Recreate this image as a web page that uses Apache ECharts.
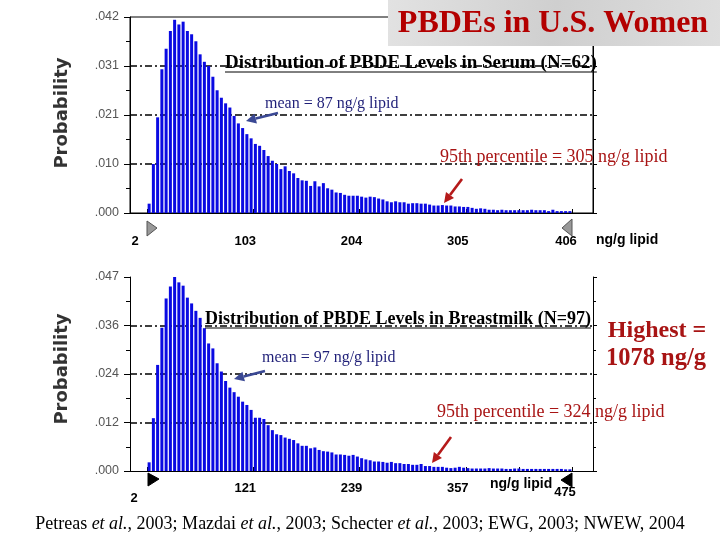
<!DOCTYPE html>
<html>
<head>
<meta charset="utf-8">
<script src="https://cdn.jsdelivr.net/npm/echarts@6/dist/echarts.min.js"></script>
<style>
  html, body { margin: 0; padding: 0; background: #fff; }
  #main { width: 720px; height: 540px; }
</style>
</head>
<body>
<div id="main"></div>
<script>
// values
var serumRange = [2, 406];
var serumTickLabels = ['2', '103', '204', '305', '406'];
var serumYLabels = ['.000', '.010', '.021', '.031', '.042'];
var serumYMax = 0.042;
var serumValues = [
  0.0020, 0.0105, 0.0205, 0.0308, 0.0352, 0.0390, 0.0414, 0.0404, 0.0410, 0.0390,
  0.0383, 0.0368, 0.0340, 0.0324, 0.0315, 0.0292, 0.0263, 0.0247, 0.0235, 0.0226,
  0.0208, 0.0192, 0.0182, 0.0169, 0.0160, 0.0148, 0.0144, 0.0135, 0.0122, 0.0112,
  0.0105, 0.0094, 0.0100, 0.0090, 0.0085, 0.0075, 0.0070, 0.0069, 0.0058, 0.0068,
  0.0057, 0.0064, 0.0053, 0.0050, 0.0044, 0.0043, 0.0039, 0.0037, 0.0037, 0.0037,
  0.0035, 0.0033, 0.0035, 0.0034, 0.0031, 0.0029, 0.0025, 0.0023, 0.0025, 0.0023,
  0.0023, 0.0020, 0.0021, 0.0021, 0.0020, 0.0020, 0.0018, 0.0016, 0.0016, 0.0017,
  0.0016, 0.0016, 0.0014, 0.0014, 0.0013, 0.0013, 0.0011, 0.0009, 0.0010, 0.0009,
  0.0007, 0.0007, 0.0006, 0.0007, 0.0006, 0.0006, 0.0006, 0.0006, 0.0006, 0.0006,
  0.0007, 0.0006, 0.0006, 0.0006, 0.0004, 0.0007, 0.0004, 0.0004, 0.0004, 0.0004
];

var milkRange = [2, 475];
var milkTickLabels = ['2', '121', '239', '357', '475'];
var milkYLabels = ['.000', '.012', '.024', '.036', '.047'];
var milkYMax = 0.047;
var milkValues = [
  0.0021, 0.0128, 0.0257, 0.0347, 0.0418, 0.0447, 0.0471, 0.0457, 0.0449, 0.0420,
  0.0406, 0.0388, 0.0371, 0.0346, 0.0309, 0.0297, 0.0261, 0.0241, 0.0218, 0.0202,
  0.0191, 0.0180, 0.0168, 0.0160, 0.0148, 0.0129, 0.0129, 0.0126, 0.0111, 0.0099,
  0.0089, 0.0087, 0.0081, 0.0078, 0.0075, 0.0067, 0.0061, 0.0061, 0.0055, 0.0057,
  0.0051, 0.0048, 0.0047, 0.0045, 0.0040, 0.0040, 0.0039, 0.0037, 0.0039, 0.0035,
  0.0031, 0.0028, 0.0026, 0.0023, 0.0023, 0.0022, 0.0020, 0.0022, 0.0019, 0.0019,
  0.0017, 0.0017, 0.0015, 0.0015, 0.0017, 0.0012, 0.0012, 0.0010, 0.0010, 0.0010,
  0.0008, 0.0007, 0.0008, 0.0010, 0.0008, 0.0007, 0.0006, 0.0006, 0.0006, 0.0006,
  0.0007, 0.0006, 0.0006, 0.0006, 0.0005, 0.0005, 0.0006, 0.0006, 0.0005, 0.0005,
  0.0005, 0.0005, 0.0005, 0.0005, 0.0005, 0.0005, 0.0005, 0.0005, 0.0004, 0.0004
];

var SERIF = '"Liberation Serif", "Times New Roman", serif';
var SANS = '"Liberation Sans", Arial, sans-serif';
var BAR_BLUE = '#0a0ae2';
var DARK_RED = '#a81414';

// bins are equal width across the range
function toBins(range, values) {
  var w = (range[1] - range[0]) / values.length;
  return values.map(function (v, i) { return [range[0] + (i + 0.5) * w, v]; });
}
function splitRange(range, n) {
  var out = [];
  for (var i = 0; i <= n; i++) out.push(range[0] + (range[1] - range[0]) * i / n);
  return out;
}

var ctx = document.createElement('canvas').getContext('2d');
function textW(txt, font) {
  ctx.font = font;
  return ctx.measureText(txt).width;
}
// font string whose text is about `width` px wide
function fitFont(txt, style, family, width) {
  var w = textW(txt, style + ' 20px ' + family);
  var size = Math.round(20 * width / w * 2) / 2;
  return style + ' ' + size + 'px ' + family;
}

var chart = echarts.init(document.getElementById('main'));

function outerX(grid) {
  return { gridIndex: grid, type: 'value', min: 0, max: 1,
    axisLine: { show: true, lineStyle: { color: '#000', width: 1 } },
    axisTick: { show: false }, axisLabel: { show: false }, splitLine: { show: false } };
}
function innerX(grid, range, labels, margin, firstPad, lastPad) {
  var labelVals = splitRange(range, 4);
  var base = { fontFamily: SANS, fontWeight: 'bold', fontSize: 13, color: '#000' };
  return { gridIndex: grid, type: 'value', min: range[0], max: range[1],
    axisLine: { show: false },
    axisTick: { show: true, inside: true, length: 4, customValues: splitRange(range, 8),
      lineStyle: { color: '#000' } },
    axisLabel: { show: true, customValues: labelVals, margin: margin,
      formatter: function (v) {
        var idx = 0;
        labelVals.forEach(function (lv, i) { if (Math.abs(lv - v) < 1e-6) idx = i; });
        if (idx === 0) return '{f|' + labels[0] + '}';
        if (idx === 4) return '{l|' + labels[4] + '}';
        return '{n|' + labels[idx] + '}';
      },
      rich: {
        n: Object.assign({ padding: [0, 16, 0, 0] }, base),
        f: Object.assign({ padding: firstPad }, base),
        l: Object.assign({ padding: lastPad }, base)
      } },
    splitLine: { show: false } };
}
function leftY(grid, max, labels) {
  var step = max / 4;
  return { gridIndex: grid, type: 'value', min: 0, max: max, interval: step, position: 'left',
    axisLine: { show: true, lineStyle: { color: '#000', width: 1 } },
    axisTick: { show: true, length: 6, lineStyle: { color: '#000' } },
    minorTick: { show: true, splitNumber: 2, length: 4, lineStyle: { color: '#000' } },
    axisLabel: { margin: 11, color: '#555', fontFamily: SANS, fontSize: 12.5,
      formatter: function (v) { return labels[Math.round(v / step)]; } },
    splitLine: { show: true, showMinLine: false, showMaxLine: false,
      lineStyle: { color: '#000', width: 1.6, type: [7, 3, 2, 3] } } };
}
function rightY(grid, max) {
  var step = max / 4;
  return { gridIndex: grid, type: 'value', min: 0, max: max, interval: step, position: 'right',
    axisLine: { show: true, lineStyle: { color: '#000', width: 1 } },
    axisTick: { show: true, length: 4, lineStyle: { color: '#000' } },
    minorTick: { show: true, splitNumber: 2, length: 3, lineStyle: { color: '#000' } },
    axisLabel: { show: false }, splitLine: { show: false } };
}
function hiddenY(grid, max) {
  return { gridIndex: grid, type: 'value', min: 0, max: max, show: false,
    splitLine: { show: false } };
}

function arrow(x1, y1, x2, y2, color) {
  var a = Math.atan2(y2 - y1, x2 - x1);
  var L = 10, W = 5;
  var bx = x2 - L * Math.cos(a), by = y2 - L * Math.sin(a);
  var px = -W * Math.sin(a), py = W * Math.cos(a);
  return [
    { type: 'line', z: 50, shape: { x1: x1, y1: y1, x2: bx, y2: by },
      style: { stroke: color, lineWidth: 2.6 } },
    { type: 'polygon', z: 50, shape: { points: [[x2, y2], [bx + px, by + py], [bx - px, by - py]] },
      style: { fill: color } }
  ];
}
function underlined(txt, x, y, width) {
  var font = fitFont(txt, 'bold', SERIF, width);
  var w = textW(txt, font);
  return [
    { type: 'text', z: 50, x: x, y: y,
      style: { text: txt, font: font, fill: '#000', align: 'left', verticalAlign: 'middle' } },
    { type: 'line', z: 50, shape: { x1: x, y1: y + 9, x2: x + w, y2: y + 9 },
      style: { stroke: '#000', lineWidth: 1 } }
  ];
}
function label(txt, x, y, font, color, align) {
  return { type: 'text', z: 50, x: x, y: y,
    style: { text: txt, font: font, fill: color, align: align || 'left', verticalAlign: 'middle' } };
}
function tri(points, fill, stroke) {
  return { type: 'polygon', z: 40, shape: { points: points },
    style: { fill: fill, stroke: stroke, lineWidth: 1 } };
}

var citeText = 'Petreas et al., 2003; Mazdai et al., 2003; Schecter et al., 2003; EWG, 2003; NWEW, 2004';
var citeFont = fitFont(citeText, 'normal', SERIF, 653);
var citeSize = parseFloat(citeFont.split(' ')[1]);
var probFont = 'bold 18px "DejaVu Sans", ' + SANS;

var graphics = [
  // title plate
  { type: 'rect', z: 60, shape: { x: 388, y: 0, width: 332, height: 46 },
    style: { fill: new echarts.graphic.LinearGradient(0, 0, 1, 1, [
      { offset: 0, color: '#e2e2e2' }, { offset: 0.5, color: '#cfcfcf' }, { offset: 1, color: '#dedede' }]) } },
  { type: 'text', z: 61, x: 553, y: 24,
    style: { text: 'PBDEs in U.S. Women', font: fitFont('PBDEs in U.S. Women', 'bold', SERIF, 310),
      fill: '#b30000', align: 'center', verticalAlign: 'middle' } },
  { type: 'text', z: 50, x: 62, y: 113, rotation: Math.PI / 2,
    style: { text: 'Probability', font: probFont, fill: '#333', align: 'center', verticalAlign: 'middle' } },
  { type: 'text', z: 50, x: 62, y: 369, rotation: Math.PI / 2,
    style: { text: 'Probability', font: probFont, fill: '#333', align: 'center', verticalAlign: 'middle' } },
  label('ng/g lipid', 596, 240, 'bold 14px ' + SANS, '#000'),
  label('ng/g lipid', 490, 484, 'bold 14px ' + SANS, '#000'),
  label('mean = 87 ng/g lipid', 265, 104, fitFont('mean = 87 ng/g lipid', 'normal', SERIF, 135), '#1f1f78'),
  label('95th percentile = 305 ng/g lipid', 440, 157,
    fitFont('95th percentile = 305 ng/g lipid', 'normal', SERIF, 227), DARK_RED),
  label('mean = 97 ng/g lipid', 262, 358, fitFont('mean = 97 ng/g lipid', 'normal', SERIF, 135), '#1f1f78'),
  label('95th percentile = 324 ng/g lipid', 437, 412,
    fitFont('95th percentile = 324 ng/g lipid', 'normal', SERIF, 228), DARK_RED),
  label('Highest =', 657, 331, fitFont('Highest =', 'bold', SERIF, 98), DARK_RED, 'center'),
  label('1078 ng/g', 656, 359, fitFont('1078 ng/g', 'bold', SERIF, 100), DARK_RED, 'center'),
  { type: 'text', z: 50, x: 360, y: 524,
    style: { text: 'Petreas {i|et al.}, 2003; Mazdai {i|et al.}, 2003; Schecter {i|et al.}, 2003; EWG, 2003; NWEW, 2004',
      font: citeFont, fill: '#000', align: 'center', verticalAlign: 'middle',
      rich: { i: { fontFamily: SERIF, fontStyle: 'italic', fontSize: citeSize, fill: '#000' } } } },
  tri([[147, 221], [157, 228], [147, 236]], '#999', '#555'),
  tri([[572, 219], [562, 228], [572, 236]], '#999', '#555'),
  tri([[148, 473], [159, 479], [148, 486]], '#000', '#000'),
  tri([[572, 473], [561, 480], [572, 487]], '#000', '#000')
]
  .concat(underlined('Distribution of PBDE Levels in Serum (N=62)', 225, 63, 375))
  .concat(underlined('Distribution of PBDE Levels in Breastmilk (N=97)', 205, 319, 387))
  .concat(arrow(278, 113, 246, 121, '#3a4894'))
  .concat(arrow(462, 179, 444, 203, '#b51a1a'))
  .concat(arrow(265, 371, 234, 379, '#3a4894'))
  .concat(arrow(451, 437, 432, 463, '#b51a1a'));

var option = {
  animation: false,
  backgroundColor: '#fff',
  grid: [
    { left: 130, right: 127, top: 17, height: 196, show: true, borderColor: '#000', borderWidth: 1 },
    { left: 147, right: 148, top: 17, height: 196 },
    { left: 130, right: 127, top: 277, height: 194 },
    { left: 147, right: 148, top: 277, height: 194 }
  ],
  xAxis: [
    outerX(0),
    innerX(1, serumRange, serumTickLabels, 22, [0, 24, 0, 0], [0, 12, 0, 0]),
    outerX(2),
    innerX(3, milkRange, milkTickLabels, 11, [10, 26, 0, 0], [4, 14, 0, 0])
  ],
  yAxis: [
    leftY(0, serumYMax, serumYLabels),
    rightY(0, serumYMax),
    hiddenY(1, serumYMax),
    leftY(2, milkYMax, milkYLabels),
    rightY(2, milkYMax),
    hiddenY(3, milkYMax)
  ],
  series: [
    { type: 'bar', xAxisIndex: 1, yAxisIndex: 2, data: toBins(serumRange, serumValues),
      barWidth: 3, itemStyle: { color: BAR_BLUE } },
    { type: 'bar', xAxisIndex: 3, yAxisIndex: 5, data: toBins(milkRange, milkValues),
      barWidth: 3, itemStyle: { color: BAR_BLUE } }
  ],
  graphic: graphics
};

chart.setOption(option);
</script>
</body>
</html>
